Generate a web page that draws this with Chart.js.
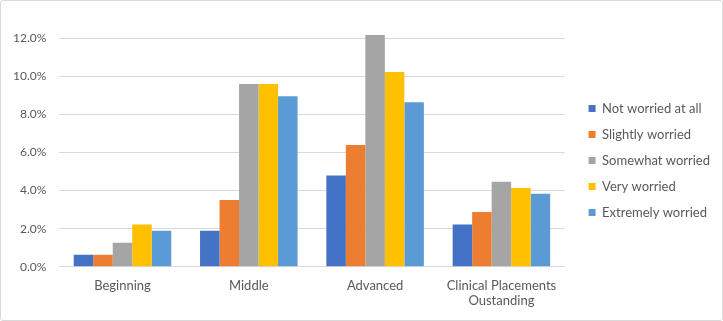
<!DOCTYPE html>
<html>
<head>
<meta charset="utf-8">
<script src="https://cdn.jsdelivr.net/npm/chart.js@4/dist/chart.umd.min.js"></script>
<style>
  html, body { margin:0; padding:0; background:#fff; }
  #wrap { position:absolute; left:0; top:0; width:721px; height:319px; border:1px solid #d9d9d9; border-radius:3px; }
  #c { display:block; }
</style>
</head>
<body>
<div id="wrap"><canvas id="c" width="721" height="319"></canvas></div>
<script>
var categories = ['Beginning', 'Middle', 'Advanced', ['Clinical Placements', 'Oustanding']];
var seriesNames = ['Not worried at all', 'Slightly worried', 'Somewhat worried', 'Very worried', 'Extremely worried'];
var seriesColors = ['#4472C4', '#ED7D31', '#A5A5A5', '#FFC000', '#5B9BD5'];
var notWorried   = [0.63, 1.89, 4.79, 2.22];
var slightly     = [0.63, 3.50, 6.39, 2.87];
var somewhat     = [1.26, 9.59, 12.16, 4.46];
var very         = [2.22, 9.59, 10.22, 4.14];
var extremely    = [1.89, 8.95, 8.63, 3.83];
var yTicks = [0, 2, 4, 6, 8, 10, 12];
var yTop = 12.89; // headroom above the 12% line

var values = [notWorried, slightly, somewhat, very, extremely];
var datasets = [];
for (var i = 0; i < values.length; i++) {
    datasets.push({
        label: seriesNames[i],
        data: values[i],
        backgroundColor: seriesColors[i],
        borderWidth: 0,
        categoryPercentage: 0.772,
        barPercentage: 1.0
    });
}

// push the legend a bit further right, away from the plot
var legendShift = {
    id: 'legendShift',
    afterLayout: function(chart) {
        chart.legend.left += 11;
        chart.legend.right += 11;
    }
};

var ctx = document.getElementById('c').getContext('2d');
var myChart = new Chart(ctx, {
    type: 'bar',
    data: { labels: categories, datasets: datasets },
    plugins: [legendShift],
    options: {
        responsive: false,
        animation: false,
        layout: { padding: { left: -1, right: 13, top: 8, bottom: 8 } },
        plugins: {
            legend: {
                position: 'right',
                labels: {
                    boxWidth: 7,
                    boxHeight: 7,
                    padding: 13,
                    color: '#595959',
                    font: { family: 'Lato', size: 13 }
                }
            },
            tooltip: { enabled: false }
        },
        scales: {
            x: {
                grid: { display: false },
                border: { color: '#d9d9d9' },
                ticks: { color: '#595959', font: { family: 'Lato', size: 13 }, maxRotation: 0 }
            },
            y: {
                min: 0,
                max: yTop,
                afterBuildTicks: function(axis) {
                    axis.ticks = yTicks.map(function(v){ return { value: v }; });
                    axis.min = 0;
                    axis.max = yTop;
                },
                grid: { color: '#d9d9d9', drawTicks: false },
                border: { display: false },
                ticks: {
                    padding: 13,
                    color: '#595959',
                    font: { family: 'Lato', size: 12 },
                    callback: function(v){ return v.toFixed(1) + '%'; }
                }
            }
        }
    }
});
</script>
</body>
</html>
